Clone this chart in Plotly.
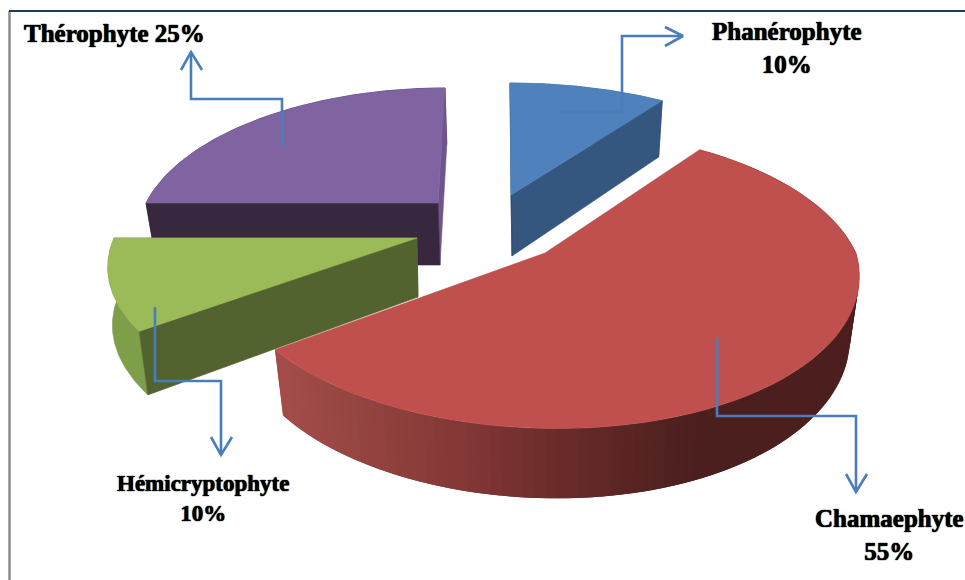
import math
import plotly.graph_objects as go

# --- data ---
categories = ["Phanérophyte", "Chamaephyte", "Hémicryptophyte", "Thérophyte"]
shares = [10, 55, 10, 25]

# --- 3-D pie projection settings per slice (layout, in page pixels) ---
GEOM = {
    "Phanérophyte":    dict(ax=511, ay=195, bx=512, by=256, rx=311, ry=140, kf=.25, kn=.2, skf=-1, skn=0, xs=.97, sb=0),
    "Chamaephyte":     dict(ax=545, ay=253, bx=545, by=314, rx=311, ry=151, kf=.225, kn=.14, skf=0, skn=12, xs=.97, sb=0),
    "Hémicryptophyte": dict(ax=417, ay=238, bx=418, by=297, rx=303, ry=140, kf=.2, kn=.2, skf=0, skn=0, xs=.99, sb=14),
    "Thérophyte":      dict(ax=438, ay=203, bx=440, by=265, rx=292, ry=140, kf=.217, kn=.2, skf=7, skn=0, xs=.97, sb=0),
}
STYLE = {
    "Phanérophyte":    dict(start="#2f4d72", end="#34567f", outer="#34567f"),
    "Chamaephyte":     dict(start="#a5504c", end="#a5504c", outer=None),
    "Hémicryptophyte": dict(start="#53632f", end="#53632f", outer="#7f9e49"),
    "Thérophyte":      dict(start="#37283f", end="#6f5590", outer="#37283f"),
}
TOPS = {"Phanérophyte": "#4f81bd", "Chamaephyte": "#bf504d",
        "Hémicryptophyte": "#9bbb59", "Thérophyte": "#8064a2"}
DRAW_ORDER = ["Thérophyte", "Phanérophyte", "Hémicryptophyte", "Chamaephyte"]
Y_GROW = 1.05

# leader lines: (polyline x, polyline y, direction of the arrowhead)
LEADERS = {
    "Phanérophyte":    ([559, 622, 622, 683], [112, 112, 36, 36], "r"),
    "Chamaephyte":     ([717, 717, 856, 856], [338, 416, 416, 492], "d"),
    "Hémicryptophyte": ([155, 155, 221, 221], [307, 381, 381, 455], "d"),
    "Thérophyte":      ([282, 282, 191, 191], [147, 99, 99, 52], "u"),
}
LABELS = [
    ("Thérophyte 25%", 114, 33, 25),
    ("Phanérophyte<br>10%", 787, 48, 25),
    ("Hémicryptophyte<br>10%", 203, 498, 23),
    ("Chamaephyte<br>55%", 889, 535, 25),
]
WALL_STOPS = [(275, (164, 78, 74)), (480, (128, 54, 52)), (560, (106, 44, 42)),
              (700, (76, 31, 31)), (860, (76, 30, 30))]
LINE = "#4a7ebb"


def project(angle, g, base=False):
    sx, cy = math.sin(angle), math.cos(angle)
    k = g["kf"] if cy > 0 else g["kn"]
    s = 1 / (1 + k * cy)
    dx = g["rx"] * sx * s
    dy = -g["ry"] * cy * s
    dx += (g["skf"] * cy if cy > 0 else g["skn"] * cy * cy)
    if base:
        return g["bx"] + dx * g["xs"] + g["sb"] * cy * cy, g["by"] + dy * Y_GROW
    return g["ax"] + dx, g["ay"] + dy


def arc(a0, a1, g, base=False, n=70):
    pts = [project(a0 + (a1 - a0) * i / n, g, base) for i in range(n + 1)]
    return [p[0] for p in pts], [p[1] for p in pts]


def wall_colour(x):
    for (x0, c0), (x1, c1) in zip(WALL_STOPS, WALL_STOPS[1:]):
        if x <= x1:
            t = max(0, (x - x0) / (x1 - x0))
            return "rgb(%d,%d,%d)" % tuple(round(a + (b - a) * t) for a, b in zip(c0, c1))
    return "rgb(%d,%d,%d)" % WALL_STOPS[-1][1]


fig = go.Figure()


def poly(xs, ys, colour, name, width=0.6):
    fig.add_trace(go.Scatter(x=xs, y=ys, mode="lines", fill="toself", fillcolor=colour,
                             line=dict(color=colour, width=width), name=name,
                             hoverinfo="skip", showlegend=False))


total = sum(shares)
angles = {}
run = 0
for c, v in zip(categories, shares):
    angles[c] = (run / total * 2 * math.pi, (run + v) / total * 2 * math.pi)
    run += v

for c in DRAW_ORDER:
    g, st = GEOM[c], STYLE[c]
    a0, a1 = angles[c]
    if c == "Chamaephyte":
        # shaded outer wall: overlapping bands so that no seams show
        n = 110
        for i in range(n):
            b0 = a0 + (a1 - a0) * i / n
            b1 = min(a1, a0 + (a1 - a0) * (i + 2) / n)
            xt, yt = arc(b0, b1, g, n=4)
            xb, yb = arc(b0, b1, g, True, n=4)
            poly(xt + xb[::-1] + xt[:1], yt + yb[::-1] + yt[:1],
                 wall_colour(project(b0, g)[0]), c, width=0)
    else:
        xt, yt = arc(a0, a1, g)
        xb, yb = arc(a0, a1, g, True)
        poly(xt + xb[::-1] + xt[:1], yt + yb[::-1] + yt[:1], st["outer"], c)
        for ang, col in ((a1, st["end"]), (a0, st["start"])):
            p, q = project(ang, g), project(ang, g, True)
            poly([g["ax"], p[0], q[0], g["bx"], g["ax"]], [g["ay"], p[1], q[1], g["by"], g["ay"]], col, c)
    xt, yt = arc(a0, a1, g)
    poly([g["ax"]] + xt + [g["ax"]], [g["ay"]] + yt + [g["ay"]], TOPS[c], c)

for c in categories:
    xs, ys, d = LEADERS[c]
    fig.add_trace(go.Scatter(x=xs, y=ys, mode="lines", line=dict(color=LINE, width=2.6),
                             hoverinfo="skip", showlegend=False, name=c + " leader"))
    tx, ty = xs[-1], ys[-1]
    if d == "d":
        hx, hy = [tx - 10, tx, tx + 11], [ty - 18, ty, ty - 18]
    elif d == "u":
        hx, hy = [tx - 10, tx, tx + 11], [ty + 18, ty, ty + 18]
    else:
        hx, hy = [tx - 18, tx, tx - 18], [ty - 9, ty, ty + 10]
    fig.add_trace(go.Scatter(x=hx, y=hy, mode="lines", line=dict(color=LINE, width=2.6),
                             hoverinfo="skip", showlegend=False, name=c + " arrow"))

for text, x, y, size in LABELS:
    fig.add_annotation(x=x, y=y, xref="x", yref="y", text="<b>%s</b>" % text, showarrow=False,
                       xanchor="center", yanchor="middle", align="center",
                       font=dict(family="Liberation Serif", size=size, color="#000000",
                                 shadow="0 0 1px #000, 0 0 1px #000"))

fig.update_layout(
    width=965, height=580, margin=dict(l=0, r=0, t=0, b=0),
    paper_bgcolor="#ffffff", plot_bgcolor="#ffffff", showlegend=False,
    xaxis=dict(range=[0, 965], visible=False, fixedrange=True),
    yaxis=dict(range=[580, 0], visible=False, fixedrange=True),
    shapes=[
        dict(type="line", xref="x", yref="y", x0=9.5, x1=9.5, y0=11, y1=580,
             line=dict(color="#8c8c8c", width=2.5)),
        dict(type="line", xref="x", yref="y", x0=9, x1=965, y0=11, y1=11,
             line=dict(color="#1f3a5f", width=1.8)),
    ],
)
fig.write_html("out.html", config={"displayModeBar": False},
               post_script="document.body.style.margin='0';document.body.style.overflow='hidden';")
